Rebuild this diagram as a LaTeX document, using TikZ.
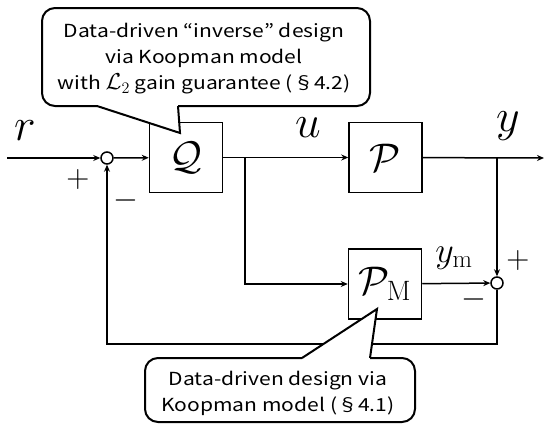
\RequirePackage{fix-cm}
\documentclass[tikz,border=0pt]{standalone}
\usepackage{fontspec}
\usetikzlibrary{arrows.meta}
\newfontfamily\jpfont[FakeStretch=1.17]{Noto Sans CJK JP}
\tikzset{
  blk/.style={draw, line width=1.5pt, minimum width=73pt, minimum height=70pt, inner sep=0pt, font=\fontsize{40}{40}\selectfont},
  sumj/.style={draw, circle, line width=1.5pt, minimum size=12pt, inner sep=0pt},
  sig/.style={line width=1.5pt, -{Stealth[length=7pt,width=6pt]}},
  lbl/.style={font=\fontsize{46}{46}\selectfont, inner sep=0pt},
  sgn/.style={font=\fontsize{32}{32}\selectfont, inner sep=0pt},
  cline/.style={line width=2pt, line join=miter},
  ctext/.style={font=\jpfont\fontsize{18}{26}\selectfont, align=center, inner sep=0pt}
}
\begin{document}
\begin{tikzpicture}[x=1pt,y=-1pt]
\useasboundingbox (0,0) rectangle (550,431);
% blocks
\node[blk] (Q) at (186,157.5) {$\mathcal{Q}$};
\node[blk] (P) at (385.5,157.5) {$\mathcal{P}$};
\node[blk] (PM) at (385,284) {$\mathcal{P}_{\mathrm{M}}$};
\node[sumj] (s1) at (107,158) {};
\node[sumj] (s2) at (497,283) {};
\coordinate (in) at (7,158);
\coordinate (out) at (544,158);
\coordinate (br1) at (497,158);
\coordinate (br2) at (245,158);
\coordinate (fb) at (107,344);
% connectors
\draw[sig] (in) -- (s1);
\draw[sig] (s1) -- (Q);
\draw[sig] (Q) -- (P);
\draw[sig] (P) -- (out);
\draw[sig] (br1) -- (s2);
\draw[sig] (br2) |- (PM);
\draw[sig] (PM) -- (s2);
\draw[sig] (s2) |- (fb) -- (s1);
% labels
\node[lbl] (lr) at (25,131) {$r$};
\node[lbl] (lu) at (308,128) {$u$};
\node[lbl] (ly) at (508,126) {$y$};
\node[font=\fontsize{36}{36}\selectfont, inner sep=0pt] (lym) at (454,258) {$y_{\mathrm{m}}$};
\node[sgn] (p1) at (78,180) {$+$};
\node[sgn] (m1) at (126,200) {$-$};
\node[sgn] (p2) at (518,261) {$+$};
\node[sgn] (m2) at (474,299) {$-$};
% callout 1
\fill[white, rounded corners=13pt] (42,8) rectangle (370,106);
\fill[white] (97,106) -- (180,133) -- (178,106) -- cycle;
\draw[cline, rounded corners=13pt] (178,106) -- (370,106) -- (370,8) -- (42,8) -- (42,106) -- (97,106);
\draw[cline] (97,106) -- (180,133) -- (178,106);
\node[ctext] (c1) at (204,59) {Data-driven “inverse” design\\via Koopman model\\with {\fontsize{23}{26}\selectfont$\mathcal{L}_2$} gain guarantee (§4.2)};
% callout 2
\fill[white, rounded corners=13pt] (145,358) rectangle (415,422);
\fill[white] (302,358) -- (377,309) -- (370,358) -- cycle;
\draw[cline, rounded corners=13pt] (370,358) -- (415,358) -- (415,422) -- (145,422) -- (145,358) -- (302,358);
\draw[cline] (302,358) -- (377,309) -- (370,358);
\node[ctext] (c2) at (278,393) {Data-driven design via\\Koopman model (§4.1)};
\end{tikzpicture}
\end{document}
